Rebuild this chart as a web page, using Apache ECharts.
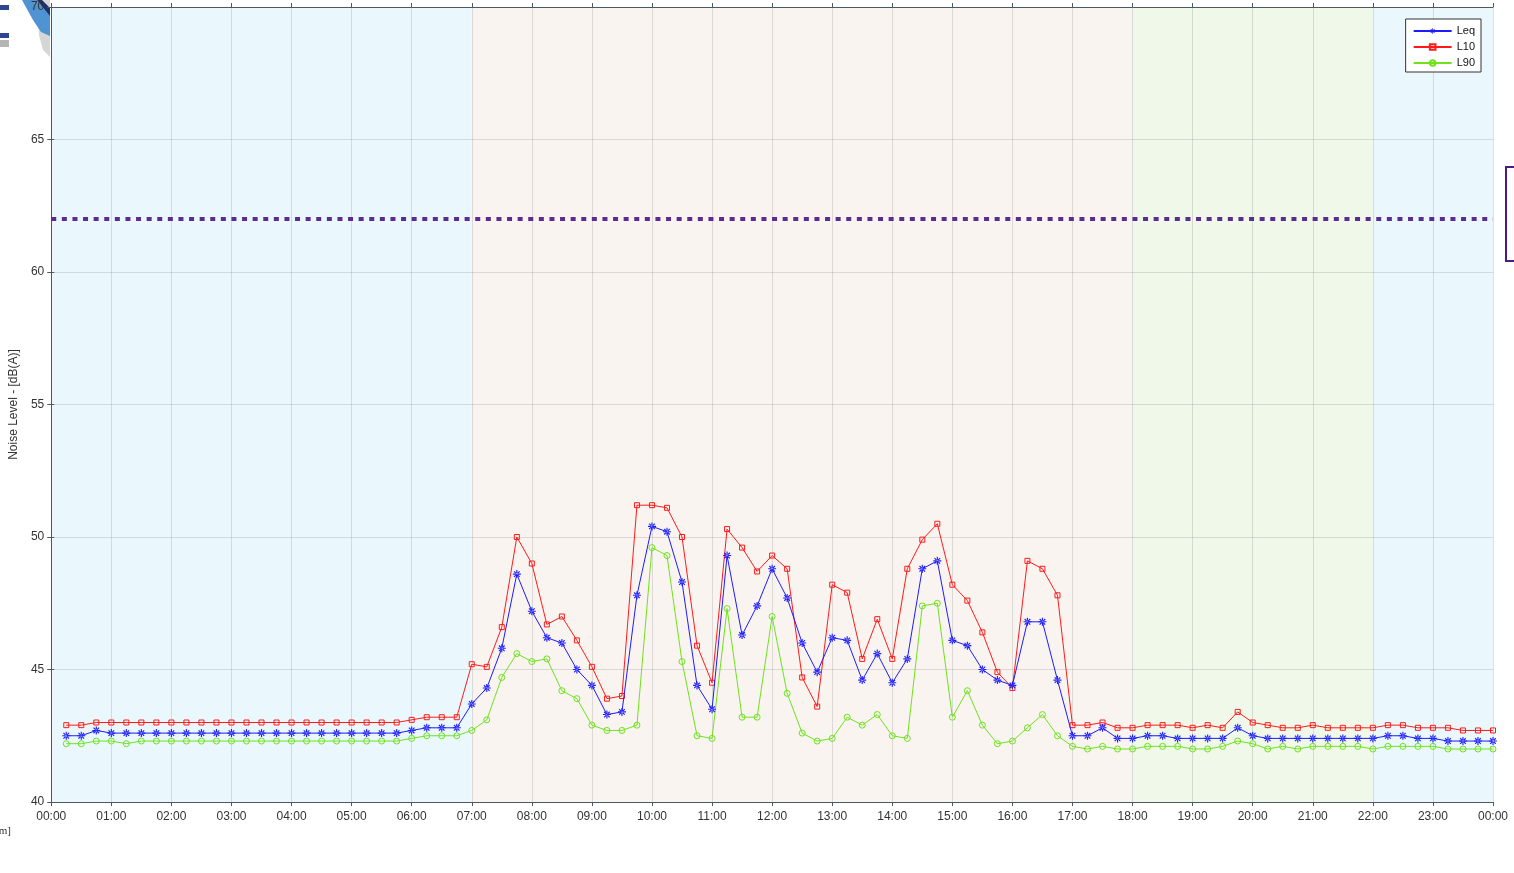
<!DOCTYPE html>
<html>
<head>
<meta charset="utf-8">
<script src="https://cdn.jsdelivr.net/npm/echarts@6/dist/echarts.min.js"></script>
<style>
html,body{margin:0;padding:0;background:#fff;}
#chart{width:1514px;height:873px;}
</style>
</head>
<body>
<div id="chart"></div>
<script>
// time stamps of the 15-minute samples
var times = [
"00:15","00:30","00:45","01:00","01:15","01:30","01:45","02:00","02:15","02:30","02:45","03:00",
"03:15","03:30","03:45","04:00","04:15","04:30","04:45","05:00","05:15","05:30","05:45","06:00",
"06:15","06:30","06:45","07:00","07:15","07:30","07:45","08:00","08:15","08:30","08:45","09:00",
"09:15","09:30","09:45","10:00","10:15","10:30","10:45","11:00","11:15","11:30","11:45","12:00",
"12:15","12:30","12:45","13:00","13:15","13:30","13:45","14:00","14:15","14:30","14:45","15:00",
"15:15","15:30","15:45","16:00","16:15","16:30","16:45","17:00","17:15","17:30","17:45","18:00",
"18:15","18:30","18:45","19:00","19:15","19:30","19:45","20:00","20:15","20:30","20:45","21:00",
"21:15","21:30","21:45","22:00","22:15","22:30","22:45","23:00","23:15","23:30","23:45","24:00"
];

var leq = [
42.5,42.5,42.7,42.6,42.6,42.6,42.6,42.6,42.6,42.6,42.6,42.6,
42.6,42.6,42.6,42.6,42.6,42.6,42.6,42.6,42.6,42.6,42.6,42.7,
42.8,42.8,42.8,43.7,44.3,45.8,48.6,47.2,46.2,46.0,45.0,44.4,
43.3,43.4,47.8,50.4,50.2,48.3,44.4,43.5,49.3,46.3,47.4,48.8,
47.7,46.0,44.9,46.2,46.1,44.6,45.6,44.5,45.4,48.8,49.1,46.1,
45.9,45.0,44.6,44.4,46.8,46.8,44.6,42.5,42.5,42.8,42.4,42.4,
42.5,42.5,42.4,42.4,42.4,42.4,42.8,42.5,42.4,42.4,42.4,42.4,
42.4,42.4,42.4,42.4,42.5,42.5,42.4,42.4,42.3,42.3,42.3,42.3
];

var l10 = [
42.9,42.9,43.0,43.0,43.0,43.0,43.0,43.0,43.0,43.0,43.0,43.0,
43.0,43.0,43.0,43.0,43.0,43.0,43.0,43.0,43.0,43.0,43.0,43.1,
43.2,43.2,43.2,45.2,45.1,46.6,50.0,49.0,46.7,47.0,46.1,45.1,
43.9,44.0,51.2,51.2,51.1,50.0,45.9,44.5,50.3,49.6,48.7,49.3,
48.8,44.7,43.6,48.2,47.9,45.4,46.9,45.4,48.8,49.9,50.5,48.2,
47.6,46.4,44.9,44.3,49.1,48.8,47.8,42.9,42.9,43.0,42.8,42.8,
42.9,42.9,42.9,42.8,42.9,42.8,43.4,43.0,42.9,42.8,42.8,42.9,
42.8,42.8,42.8,42.8,42.9,42.9,42.8,42.8,42.8,42.7,42.7,42.7
];

var l90 = [
42.2,42.2,42.3,42.3,42.2,42.3,42.3,42.3,42.3,42.3,42.3,42.3,
42.3,42.3,42.3,42.3,42.3,42.3,42.3,42.3,42.3,42.3,42.3,42.4,
42.5,42.5,42.5,42.7,43.1,44.7,45.6,45.3,45.4,44.2,43.9,42.9,
42.7,42.7,42.9,49.6,49.3,45.3,42.5,42.4,47.3,43.2,43.2,47.0,
44.1,42.6,42.3,42.4,43.2,42.9,43.3,42.5,42.4,47.4,47.5,43.2,
44.2,42.9,42.2,42.3,42.8,43.3,42.5,42.1,42.0,42.1,42.0,42.0,
42.1,42.1,42.1,42.0,42.0,42.1,42.3,42.2,42.0,42.1,42.0,42.1,
42.1,42.1,42.1,42.0,42.1,42.1,42.1,42.1,42.0,42.0,42.0,42.0
];

var hourLabels = ["00:00","01:00","02:00","03:00","04:00","05:00","06:00","07:00","08:00",
"09:00","10:00","11:00","12:00","13:00","14:00","15:00","16:00","17:00","18:00","19:00",
"20:00","21:00","22:00","23:00","00:00"];

var periodBounds = [0, 7, 18, 22, 24];   // day / evening / night periods (hours)
var limitValue = 62;
var seriesNames = ["Leq", "L10", "L90"];

function toHour(t){ var p = t.split(":"); return +p[0] + (+p[1]) / 60; }
function pairs(vals){ return vals.map(function(v, i){ return [toHour(times[i]), v]; }); }

var bandColors = ['#eaf8fd', '#f9f4ef', '#eff8e9', '#eaf8fd'];
var bands = [];
for (var b = 0; b < periodBounds.length - 1; b++) {
  bands.push([{xAxis: periodBounds[b], itemStyle: {color: bandColors[b]}}, {xAxis: periodBounds[b + 1]}]);
}

var asterisk = 'path://M-0.7,-5 L0.7,-5 L0.7,5 L-0.7,5 Z M-5,-0.7 L5,-0.7 L5,0.7 L-5,0.7 Z M-4,-3 L3,4 L4,3 L-3,-4 Z M-4,3 L-3,4 L4,-3 L3,-4 Z';

var gridLine = {show: true, lineStyle: {color: 'rgba(90,95,100,0.19)', width: 1}};
var axisCol = '#4c5862';
var font = '"Liberation Sans", Arial, sans-serif';

var chart = echarts.init(document.getElementById('chart'), null, {renderer: 'canvas'});
chart.setOption({
  animation: false,
  backgroundColor: '#ffffff',
  textStyle: {fontFamily: font},
  grid: {left: 50, right: 21, top: 7, bottom: 71, containLabel: false},
  legend: {
    orient: 'vertical', right: 33, top: 19,
    padding: [6, 6, 3, 7], itemGap: 4, itemWidth: 38, itemHeight: 7,
    backgroundColor: '#ffffff', borderColor: '#333', borderWidth: 1, borderRadius: 0,
    textStyle: {fontSize: 11, color: '#111', fontFamily: font, lineHeight: 12},
    data: seriesNames
  },
  xAxis: [{
    type: 'value', min: 0, max: 24, interval: 1, z: 1.5,
    axisLine: {show: true, lineStyle: {color: axisCol, width: 1}},
    axisTick: {show: true, length: 4, lineStyle: {color: axisCol}},
    axisLabel: {color: '#333', fontSize: 12, margin: 9, formatter: function(v){ return hourLabels[Math.round(v)]; }},
    splitLine: gridLine
  }, {
    type: 'value', min: 0, max: 24, interval: 1, position: 'top', z: 1.5,
    axisLine: {show: true, lineStyle: {color: axisCol, width: 1}},
    axisTick: {show: true, length: 4, lineStyle: {color: axisCol}},
    axisLabel: {show: false}, splitLine: {show: false}
  }],
  yAxis: [{
    type: 'value', min: 40, max: 70, interval: 5, z: 1.5,
    name: 'Noise Level - [dB(A)]', nameLocation: 'middle', nameGap: 27, nameRotate: 90,
    nameTextStyle: {color: '#333', fontSize: 12},
    axisLine: {show: true, lineStyle: {color: axisCol, width: 1}},
    axisTick: {show: true, length: 4, lineStyle: {color: axisCol}},
    axisLabel: {color: '#333', fontSize: 12, margin: 7},
    splitLine: gridLine
  }, {
    type: 'value', min: 40, max: 70, interval: 5, position: 'right', z: 1.5,
    axisLine: {show: true, lineStyle: {color: axisCol, width: 1}},
    axisTick: {show: true, length: 3, lineStyle: {color: axisCol}},
    axisLabel: {show: false}, splitLine: {show: false}
  }],
  series: [{
    name: 'Leq', type: 'line', data: pairs(leq), z: 4,
    symbol: asterisk, symbolSize: 8, showAllSymbol: true,
    lineStyle: {color: '#1c1cff', width: 1},
    itemStyle: {color: '#1c1cff'},
    markArea: {silent: true, data: bands},
    markLine: {
      silent: true, symbol: ['none', 'none'], label: {show: false},
      lineStyle: {color: '#5a2c91', width: 4, type: [5, 5.6], opacity: 1},
      data: [{yAxis: limitValue}]
    }
  }, {
    name: 'L10', type: 'line', data: pairs(l10), z: 3,
    symbol: 'rect', symbolSize: 5, showAllSymbol: true,
    lineStyle: {color: '#ff1a1a', width: 1},
    itemStyle: {color: 'rgba(255,255,255,0)', borderColor: '#ff1a1a', borderWidth: 1}
  }, {
    name: 'L90', type: 'line', data: pairs(l90), z: 3,
    symbol: 'circle', symbolSize: 6, showAllSymbol: true,
    lineStyle: {color: '#6ee31c', width: 1},
    itemStyle: {color: 'rgba(255,255,255,0)', borderColor: '#6ee31c', borderWidth: 1}
  }],
  graphic: [
    {type: 'polygon', z: -10, shape: {points: [[37,0],[50,0],[50,57],[43,50],[39,35]]}, style: {fill: '#d6d6d6'}},
    {type: 'polygon', z: -9, shape: {points: [[22,0],[37,0],[50,10],[50,36],[41,32],[33,20]]}, style: {fill: '#4f93d2'}},
    {type: 'polygon', z: -8, shape: {points: [[37,0],[42,0],[50,8],[50,16]]}, style: {fill: '#1d2f6e'}},
    {type: 'rect', z: -9, shape: {x: 0, y: 5, width: 9, height: 5}, style: {fill: '#2f4592'}},
    {type: 'rect', z: -9, shape: {x: 0, y: 33, width: 9, height: 5}, style: {fill: '#2f4592'}},
    {type: 'rect', z: -9, shape: {x: 0, y: 40, width: 9, height: 7}, style: {fill: '#b5b5b5'}},
    {type: 'rect', z: 10, shape: {x: 1506, y: 167, width: 40, height: 94}, style: {fill: 'none', stroke: '#4b1a8a', lineWidth: 2}},
    {type: 'text', z: 10, x: 11, y: 826, style: {text: '[hh:mm]', align: 'right', fill: '#333', font: '11px "Liberation Serif", serif'}}
  ]
});
</script>
</body>
</html>
